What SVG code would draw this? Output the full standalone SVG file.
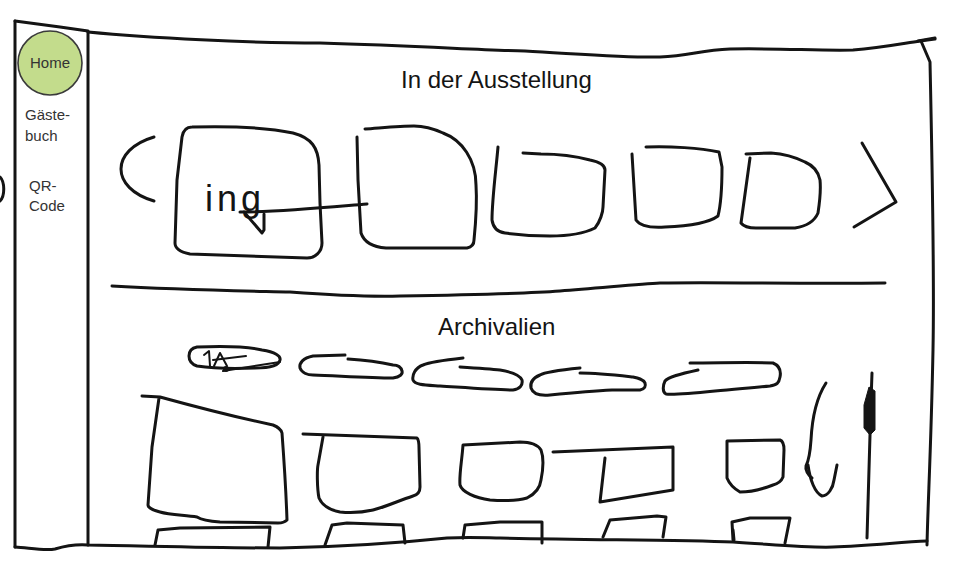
<svg xmlns="http://www.w3.org/2000/svg" width="960" height="577" viewBox="0 0 960 577">
<style>
.ink{fill:none;stroke:#141414;stroke-width:3;stroke-linecap:round;stroke-linejoin:round}
.thin{fill:none;stroke:#141414;stroke-width:2;stroke-linecap:round;stroke-linejoin:round}
.nav{font-family:"Liberation Sans",Arial,sans-serif;font-size:15px;fill:#333333}
.title{font-family:"Liberation Sans",Arial,sans-serif;font-size:24px;fill:#141414}
.hand{font-family:"Liberation Sans",Arial,sans-serif;font-size:36px;fill:#141414;letter-spacing:4px}
</style>
<rect width="960" height="577" fill="#ffffff"/>

<g id="frame">
  <path class="ink" d="M15,21 L15,547"/>
  <path class="ink" d="M15,21 L60,27 L88,31"/>
  <path class="ink" d="M88,32 L88,545"/>
  <path class="ink" d="M15,547 C30,548 45,551 55,549 C65,546 75,544 88,545 C150,546 220,548 280,548 C330,547 380,545 447,538 C470,537 490,538 500,538 C600,540 680,540 733,542 C780,545 810,548 833,547 C870,546 900,542 927,541"/>
  <path class="ink" d="M88,32 C150,38 250,43 320,43 C420,46 480,50 525,51 C580,54 630,58 660,57 C690,56 700,50 730,49 C780,48 820,51 853,50 C880,48 900,44 920,41 L935,39"/>
  <path class="ink" stroke-width="5" d="M918,41 L935,38"/>
  <path class="ink" d="M921,41 L930,62 C933,200 934,300 933,350 C931,450 928,500 927,545"/>
  <path class="ink" d="M112,286 C180,290 250,291 290,292 C330,295 360,297 400,296 C460,295 520,294 560,291 C600,288 640,284 660,283 C720,282 800,284 885,283"/>
  <path class="ink" d="M0,177 C5,182 5,196 0,201"/>
</g>

<g id="nav-home">
  <circle cx="50" cy="63" r="32" fill="#c3dc8c" stroke="#3a3a3a" stroke-width="1.6"/>
  <text class="nav" x="50" y="68" text-anchor="middle">Home</text>
</g>
<g id="nav-gaestebuch">
  <text class="nav" x="25" y="120">Gäste-</text>
  <text class="nav" x="25" y="141">buch</text>
</g>
<g id="nav-qr">
  <text class="nav" x="29" y="191">QR-</text>
  <text class="nav" x="29" y="211">Code</text>
</g>

<g id="title-ausstellung">
  <text class="title" x="401" y="88">In der Ausstellung</text>
</g>

<g id="carousel-prev">
  <path class="ink" d="M154,137 C110,150 110,188 154,201"/>
</g>
<g id="carousel-item-1">
  <path class="ink" d="M192,127 C230,126 270,128 293,133 C312,138 318,148 319,165 L320,203 L322,243 C322,252 315,258 307,258 L190,254 C180,252 175,248 175,243 L177,180 L182,137 C183,131 186,127 192,127 Z"/>
  <text class="hand" x="205" y="211">ing</text>
  <path class="ink" d="M244,212 L262,233 L264,230 L264,214"/>
</g>
<g id="carousel-item-2">
  <path class="ink" d="M357,137 L358,180 L361,233 C364,242 372,247 386,248 L467,248 C472,247 474,244 474,240 C476,220 477,200 476,185 C476,160 462,140 443,133 C432,128 422,126 414,126 C400,126 380,128 365,129"/>
</g>
<g id="carousel-item-3">
  <path class="ink" d="M498,147 C496,170 492,200 492,220 C493,227 497,232 505,233 C520,235 535,236 550,236 C570,236 585,233 595,228 C600,222 603,212 603,207 L605,170 C605,165 600,162 590,160 C575,156 560,154 541,154 L523,153"/>
</g>
<g id="carousel-item-4">
  <path class="ink" d="M632,154 L636,220 C640,226 650,228 665,227 C690,226 710,222 718,216 C722,200 722,180 722,167 L719,152 C700,148 670,146 646,147"/>
</g>
<g id="carousel-item-5">
  <path class="ink" d="M750,158 L741,223 C744,227 750,228 756,228 L795,228 C808,226 815,220 818,213 C820,200 821,190 820,180 C818,170 812,165 805,162 C795,157 785,154 771,153 L746,154"/>
</g>
<g id="carousel-next">
  <path class="ink" d="M862,143 L896,202 L854,227"/>
</g>

<g id="title-archivalien">
  <text class="title" x="438" y="335">Archivalien</text>
</g>

<g id="filter-1">
  <path class="ink" d="M197,347 C220,346 245,346 262,350 C275,352 281,356 280,360 C279,366 270,368 255,368 C230,369 210,368 197,366 C191,364 189,360 189,356 C189,351 192,348 197,347 Z"/>
  <path class="thin" d="M204,355 L209,351 L210,366"/>
  <path class="thin" d="M214,366 L220,353 L227,366"/>
  <path class="thin" d="M213,360 L246,356"/>
  <path class="thin" d="M223,371 L280,362"/>
  <circle cx="226" cy="369" r="3" fill="#141414"/>
</g>
<g id="filter-2">
  <path class="ink" d="M345,355 L313,356 C303,358 299,363 300,368 C302,373 308,375 313,375 C340,376 370,378 393,378 C400,377 403,374 402,371 C401,367 398,365 393,365 C380,362 365,360 348,359"/>
</g>
<g id="filter-3">
  <path class="ink" d="M463,358 C445,360 430,362 423,365 C415,368 412,375 413,380 C415,385 425,385 440,386 C470,388 495,390 513,390 C520,389 523,385 522,380 C520,375 512,372 500,370 C490,369 475,368 460,367"/>
</g>
<g id="filter-4">
  <path class="ink" d="M580,368 C560,370 545,372 540,375 C533,378 530,383 531,388 C533,394 540,396 550,395 C570,393 590,391 612,390 L640,390 C645,389 646,386 645,383 C643,379 638,378 633,377 C615,375 598,373 580,373"/>
</g>
<g id="filter-5">
  <path class="ink" d="M690,363 C720,363 750,362 773,363 C780,366 781,372 780,377 C779,383 777,385 770,386 C750,388 735,389 715,391 C695,393 675,395 666,394 C662,392 663,385 665,381 C668,377 680,374 698,370"/>
</g>

<g id="archive-item-1">
  <path class="ink" d="M142,396 L160,397 C200,408 240,418 273,425 C278,427 281,429 282,433 C284,460 286,490 287,520 C285,522 282,523 278,523 L220,522 C205,521 200,519 197,517 C185,515 170,515 160,512 C152,510 148,507 148,505 L152,447 L159,398"/>
</g>
<g id="archive-item-2">
  <path class="ink" d="M303,434 C340,435 380,437 417,438 C419,440 419,443 419,448 L420,487 C420,492 417,495 413,496 C398,501 385,507 373,510 C360,513 350,513 340,512 C330,510 322,505 319,498 C317,488 317,470 318,465 L323,437"/>
</g>
<g id="archive-item-3">
  <path class="ink" d="M463,445 C462,460 459,475 460,485 C462,492 475,498 490,500 C505,501 520,500 527,498 C535,494 540,488 541,480 C543,470 544,458 541,450 C538,445 532,442 520,442 Z"/>
</g>
<g id="archive-item-4">
  <path class="ink" d="M553,452 L673,447 L673,490 L600,502 L605,458"/>
</g>
<g id="archive-item-5">
  <path class="ink" d="M727,441 L780,440 C783,441 784,445 784,450 L783,477 C781,482 777,484 773,485 C760,490 750,492 740,492 C733,488 729,483 727,478 Z"/>
</g>
<g id="scroll-hint">
  <path class="ink" d="M826,383 C815,400 812,420 811,440 C810,455 808,462 806,466 C805,470 808,475 812,478"/>
  <path class="ink" d="M808,465 C810,480 815,493 822,496 C828,496 833,488 834,480 L837,465"/>
</g>
<g id="scrollbar">
  <path class="ink" d="M872,373 C870,430 868,490 867,538"/>
  <path d="M869,387 L875,391 L875,430 L870,435 L864,428 L864,405 Z" fill="#141414" stroke="#141414" stroke-width="1"/>
</g>

<g id="archive-row-2">
  <path class="ink" d="M155,545 L158,530 L180,528 L270,527 L268,547"/>
  <path class="ink" d="M325,545 L332,525 L347,523 L403,525 L405,543"/>
  <path class="ink" d="M463,538 L465,525 L500,522 L542,522 L542,543"/>
  <path class="ink" d="M603,537 L610,520 L657,516 L666,517 L663,537"/>
  <path class="ink" d="M733,540 L732,522 L750,518 L790,518 L785,543"/>
  <path class="ink" stroke-width="4" d="M733,530 L734,540"/>
</g>

<g id="connectors">
  <path class="ink" d="M240,212 C280,212 320,208 367,204"/>
</g>
</svg>
